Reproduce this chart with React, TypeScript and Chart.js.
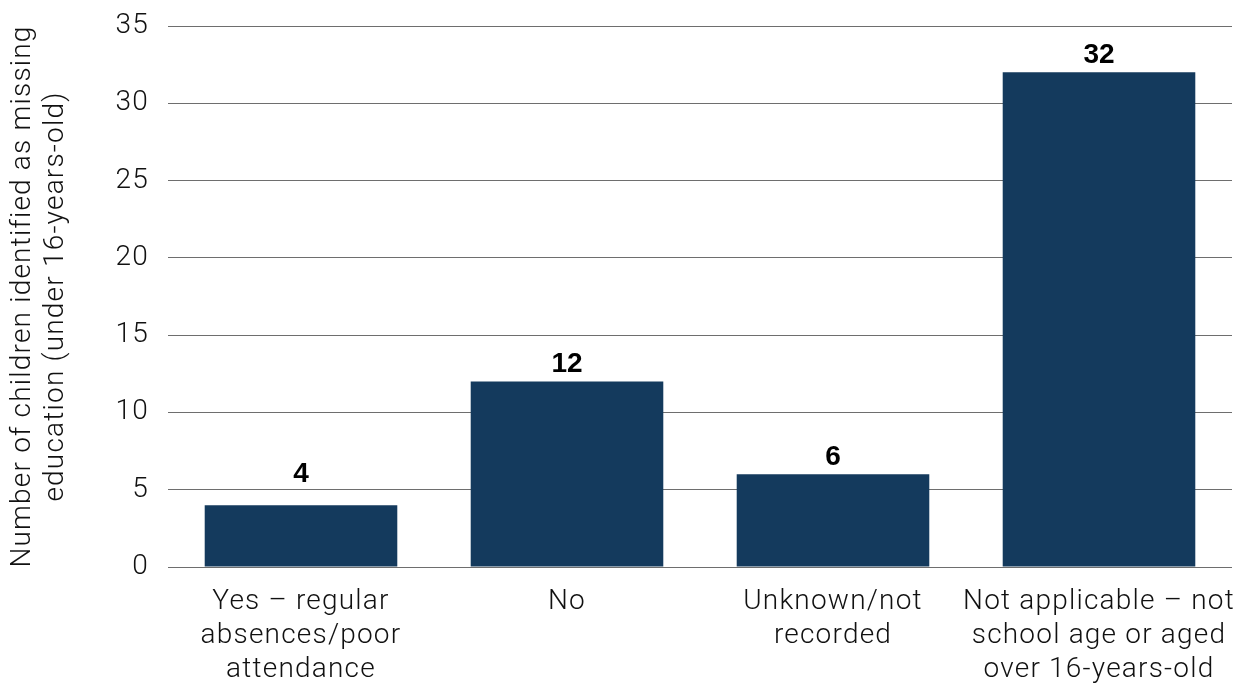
import React, { useEffect, useRef } from "react";
import { Chart, registerables } from "chart.js";

Chart.register(...registerables);

const categories: string[][] = [
  ["Yes – regular", "absences/poor", "attendance"],
  ["No"],
  ["Unknown/not", "recorded"],
  ["Not applicable – not", "school age or aged", "over 16-years-old"],
];
const counts: number[] = [4, 12, 6, 32];
const yTitle: string[] = ["Number of children identified as missing", "education (under 16-years-old)"];
const yMax = 35;
const yStep = 5;

const FONT = "Roboto, 'Liberation Sans', Arial, sans-serif";
const BOLD_FONT = "'Liberation Sans', Arial, sans-serif";
const SPACING = "1.2px";

const spacingPlugin = {
  id: "spacing",
  beforeLayout(chart: any) {
    chart.ctx.letterSpacing = SPACING;
  },
  beforeDraw(chart: any) {
    chart.ctx.letterSpacing = SPACING;
  },
};

const valueLabels = {
  id: "valueLabels",
  afterDatasetsDraw(chart: any) {
    const { ctx } = chart;
    const meta = chart.getDatasetMeta(0);
    const yScale = chart.scales.y;
    const gridPx: number[] = yScale.ticks.map((t: any) => yScale.getPixelForValue(t.value));
    ctx.save();
    ctx.letterSpacing = "0px";
    ctx.font = `bold 28px ${BOLD_FONT}`;
    ctx.fillStyle = "#000";
    ctx.textAlign = "center";
    ctx.textBaseline = "middle";
    meta.data.forEach((bar: any, i: number) => {
      let cy = bar.y - 17;
      const half = 10;
      for (const g of gridPx) {
        if (cy - half < g && cy + half > g) {
          cy = g - 15;
        }
      }
      ctx.fillText(String(counts[i]), bar.x, cy);
    });
    ctx.restore();
  },
};

export default function App() {
  const ref = useRef<HTMLCanvasElement>(null);
  useEffect(() => {
    document.body.style.margin = "0";
    const chart = new Chart(ref.current!, {
      type: "bar",
      data: {
        labels: categories,
        datasets: [
          {
            data: counts,
            backgroundColor: "#143a5d",
            barPercentage: 0.724,
            categoryPercentage: 1,
          },
        ],
      },
      options: {
        responsive: false,
        animation: false,
        layout: { padding: { top: 26, right: 15, left: 0, bottom: 0 } },
        plugins: { legend: { display: false }, tooltip: { enabled: false } },
        scales: {
          x: {
            grid: { display: false },
            border: { display: false },
            ticks: {
              color: "#111",
              font: { family: FONT, size: 28, weight: "300" as any, lineHeight: 1.22 },
              padding: 10,
              maxRotation: 0,
              autoSkip: false,
            },
            afterFit: (s: any) => {
              s.height = 117;
              s.paddingLeft = 0;
              s.paddingRight = 0;
            },
          },
          y: {
            min: 0,
            max: yMax,
            border: { display: false },
            grid: { color: "#6e6e6e", lineWidth: 1, drawTicks: false },
            ticks: {
              stepSize: yStep,
              color: "#111",
              font: { family: FONT, size: 28, weight: "300" as any },
              padding: 19,
            },
            title: {
              display: true,
              text: yTitle,
              color: "#111",
              font: { family: FONT, size: 28, weight: "300" as any, lineHeight: 1.18 },
              padding: { top: 6, bottom: 4 },
            },
            afterFit: (s: any) => {
              s.width = 168;
              s.paddingTop = 0;
              s.paddingBottom = 0;
            },
          },
        },
      },
      plugins: [spacingPlugin, valueLabels],
    });
    return () => chart.destroy();
  }, []);
  return <canvas ref={ref} width={1247} height={684} style={{ display: "block" }} />;
}
